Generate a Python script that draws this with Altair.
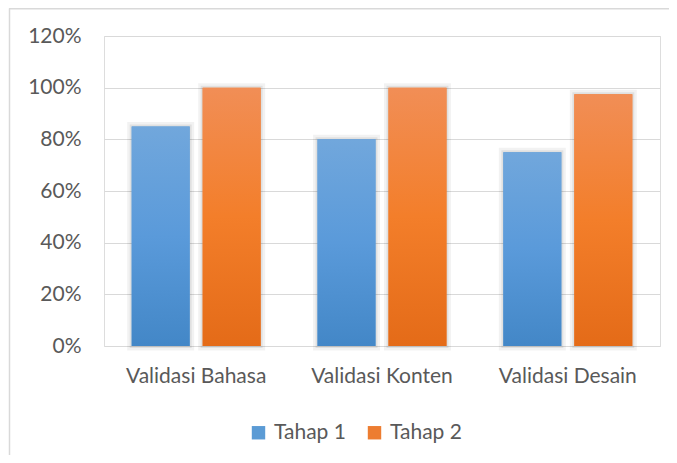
import altair as alt
import pandas as pd

categories = ["Validasi Bahasa", "Validasi Konten", "Validasi Desain"]
series = ["Tahap 1", "Tahap 2"]
tahap1 = [0.85, 0.80, 0.75]
tahap2 = [1.00, 1.00, 0.975]

rows = []
for c, v in zip(categories, tahap1):
    rows.append({"kategori": c, "tahap": "Tahap 1", "nilai": v})
for c, v in zip(categories, tahap2):
    rows.append({"kategori": c, "tahap": "Tahap 2", "nilai": v})
df = pd.DataFrame(rows)

FONT = "Lato"
GREY = "#595959"

x_enc = alt.X("kategori:N", sort=categories, title=None,
              scale=alt.Scale(paddingInner=0.306, paddingOuter=0.149),
              axis=alt.Axis(labelAngle=0, labelFont=FONT, labelFontSize=21,
                            labelColor=GREY, labelPadding=19, ticks=False,
                            domain=False, grid=False))
xo_enc = alt.XOffset("tahap:N", sort=series,
                     scale=alt.Scale(domain=series, paddingInner=0.183, paddingOuter=0))
y_enc = alt.Y("nilai:Q", title=None,
              scale=alt.Scale(domain=[0, 1.2], nice=False),
              axis=alt.Axis(values=[0, 0.2, 0.4, 0.6, 0.8, 1.0, 1.2], format=".0%",
                            labelFont=FONT, labelFontSize=21, labelColor=GREY,
                            labelPadding=23, ticks=False, domain=False,
                            grid=True, gridColor="#D9D9D9", gridWidth=1.2))

base = alt.Chart(df)

shadow_outer = base.mark_bar(filled=False, stroke="#000000", strokeOpacity=0.05,
                             strokeWidth=9).encode(x=x_enc, xOffset=xo_enc, y=y_enc)
shadow_inner = base.mark_bar(filled=False, stroke="#000000", strokeOpacity=0.07,
                             strokeWidth=4).encode(x=x_enc, xOffset=xo_enc, y=y_enc)

solid = base.mark_bar().encode(
    x=x_enc, xOffset=xo_enc, y=y_enc,
    color=alt.Color("tahap:N", sort=series,
                    scale=alt.Scale(domain=series, range=["#5B9BD5", "#ED7D31"]),
                    legend=alt.Legend(title=None, orient="none", direction="horizontal",
                                      legendX=144, legendY=386,
                                      symbolType="square", symbolSize=180,
                                      symbolStrokeWidth=0, symbolOpacity=1,
                                      labelFont=FONT, labelFontSize=21,
                                      labelColor=GREY, columnPadding=18,
                                      labelOffset=5)))

blue_grad = alt.Gradient(gradient="linear", x1=0, x2=0, y1=0, y2=1,
                         stops=[alt.GradientStop(color="#71A7DC", offset=0),
                                alt.GradientStop(color="#5A9ADA", offset=0.5),
                                alt.GradientStop(color="#4387C7", offset=1)])
orange_grad = alt.Gradient(gradient="linear", x1=0, x2=0, y1=0, y2=1,
                           stops=[alt.GradientStop(color="#F18E56", offset=0),
                                  alt.GradientStop(color="#F37E2A", offset=0.5),
                                  alt.GradientStop(color="#E46B18", offset=1)])

g1 = base.transform_filter(alt.datum.tahap == "Tahap 1").mark_bar(color=blue_grad).encode(
    x=x_enc, xOffset=xo_enc, y=y_enc)
g2 = base.transform_filter(alt.datum.tahap == "Tahap 2").mark_bar(color=orange_grad).encode(
    x=x_enc, xOffset=xo_enc, y=y_enc)

frame = alt.Chart(alt.Data(values=[{}]))
top_line = frame.mark_rule(color="#D9D9D9", strokeWidth=1.5).encode(
    x=alt.value(-95), x2=alt.value(620), y=alt.value(-27.3))
left_line = frame.mark_rule(color="#D9D9D9", strokeWidth=1.5).encode(
    x=alt.value(-94.5), y=alt.value(-27.5), y2=alt.value(440))

chart = alt.layer(shadow_outer, shadow_inner, solid, g1, g2, top_line, left_line).properties(
    width=556, height=310,
    autosize=alt.AutoSizeParams(type="none"),
    padding={"left": 96, "top": 28, "right": 9, "bottom": 109},
).configure_view(stroke=None).configure(background="white")

chart.save("out.html", embed_options={"renderer": "svg", "actions": False})
